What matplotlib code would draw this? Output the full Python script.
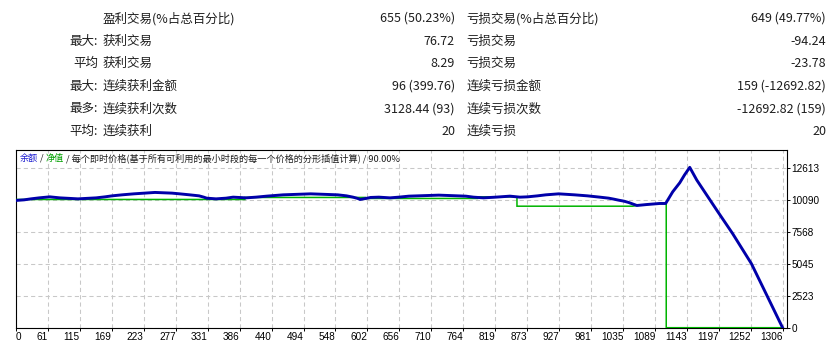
import matplotlib
matplotlib.use("Agg")
import matplotlib.pyplot as plt
import numpy as np

plt.rcParams['font.family'] = ['Noto Sans CJK SC', 'DejaVu Sans']

# ---------------- summary table ----------------
row_prefix = ["", "最大:", "平均", "最大:", "最多:", "平均:"]
win_labels = ["盈利交易(%占总百分比)", "获利交易", "获利交易", "连续获利金额", "连续获利次数", "连续获利"]
win_values = ["655 (50.23%)", "76.72", "8.29", "96 (399.76)", "3128.44 (93)", "20"]
loss_labels = ["亏损交易(%占总百分比)", "亏损交易", "亏损交易", "连续亏损金额", "连续亏损次数", "连续亏损"]
loss_values = ["649 (49.77%)", "-94.24", "-23.78", "159 (-12692.82)", "-12692.82 (159)", "20"]

# ---------------- chart data ----------------
balance_trade = [0, 14, 26, 40, 58, 75, 106, 137, 152, 164, 181, 201, 237, 266, 279, 296, 312, 320, 325,
                 341, 358, 370, 392, 409, 427, 455, 502, 548, 563, 574, 582, 586, 596, 604, 618, 637, 652,
                 669, 720, 766, 779, 796, 817, 841, 858, 871, 888, 902, 924, 951, 973, 994, 1009, 1018, 1026,
                 1035, 1043, 1057, 1075, 1096, 1106, 1118, 1130, 1138, 1147, 1159, 1195, 1220, 1252, 1277, 1305]
balance_value = [10072, 10119, 10199, 10278, 10358, 10278, 10199, 10278, 10358, 10437, 10517, 10596, 10707,
                 10652, 10596, 10517, 10437, 10334, 10254, 10199, 10254, 10334, 10278, 10334, 10413, 10517,
                 10596, 10517, 10437, 10334, 10231, 10151, 10231, 10310, 10334, 10278, 10334, 10413, 10493,
                 10413, 10334, 10278, 10334, 10413, 10334, 10358, 10437, 10517, 10596, 10517, 10437, 10334,
                 10254, 10175, 10095, 10016, 9913, 9674, 9754, 9833, 9833, 10755, 11471, 12083, 12693, 11685,
                 9165, 7448, 5064, 2679, 0]

equity_trade = [0, 390, 390, 595, 595, 786, 786, 853, 853, 1050, 1057, 1075, 1096, 1107, 1107, 1305]
equity_value = [10151, 10151, 10310, 10310, 10231, 10231, 10358, 10358, 9618, 9618, 9674, 9754, 9833, 9833, 0, 0]

x_tick_labels = ["0", "61", "115", "169", "223", "277", "331", "386", "440", "494", "548", "602", "656",
                 "710", "764", "819", "873", "927", "981", "1035", "1089", "1143", "1197", "1252", "1306"]
y_tick_values = [0, 2523, 5045, 7568, 10090, 12613]

title_parts = ["余额", " / ", "净值", " / 每个即时价格(基于所有可利用的最小时段的每一个价格的分形插值计算) / 90.00%"]

# ---------------- layout ----------------
W, H = 839, 348
fig = plt.figure(figsize=(W / 100, H / 100), dpi=100)
fig.patch.set_facecolor("white")

txt_color = "#1e1e1e"
tfs = 9
row_y0, row_dy = 18.5, 22.6

def fx(px):
    return px / W

def fy(py):
    return 1 - py / H

for i in range(len(win_labels)):
    yy = fy(row_y0 + i * row_dy)
    fig.text(fx(98), yy, row_prefix[i], ha="right", va="center", fontsize=tfs, color=txt_color)
    fig.text(fx(103), yy, win_labels[i], ha="left", va="center", fontsize=tfs, color=txt_color)
    fig.text(fx(455), yy, win_values[i], ha="right", va="center", fontsize=tfs, color=txt_color)
    fig.text(fx(466.5), yy, loss_labels[i], ha="left", va="center", fontsize=tfs, color=txt_color)
    fig.text(fx(826), yy, loss_values[i], ha="right", va="center", fontsize=tfs, color=txt_color)

# ---------------- chart ----------------
ax_l, ax_r, ax_t, ax_b = 15.7, 786.7, 149.7, 327.7
ax = fig.add_axes([ax_l / W, 1 - ax_b / H, (ax_r - ax_l) / W, (ax_b - ax_t) / H])

ax.plot(equity_trade, equity_value, color="#00b400", lw=1.1, zorder=3, solid_joinstyle="miter")
ax.plot(balance_trade, balance_value, color="#0000aa", lw=2.1, zorder=4)

ax.set_xlim(0, 1312)
ax.set_ylim(0, 14090)

xt = np.linspace(0, 1306, len(x_tick_labels))
ax.set_xticks(xt)
ax.set_xticklabels(x_tick_labels)
for i, lab in enumerate(ax.get_xticklabels()):
    lab.set_ha("left" if i == 0 else "right")

ax.yaxis.tick_right()
ax.set_yticks(y_tick_values)
ax.set_yticklabels([str(v) for v in y_tick_values])

tick_font = dict(family=["Liberation Sans", "DejaVu Sans"], size=7.2)
for lab in ax.get_xticklabels() + ax.get_yticklabels():
    lab.set_fontfamily(tick_font["family"])
    lab.set_fontsize(tick_font["size"])
    lab.set_color("#000000")

ax.tick_params(axis="x", length=2, width=0.7, pad=1.2, color="#000000")
ax.tick_params(axis="y", length=2, width=0.7, pad=1.5, color="#000000", right=True, left=False)

ax.grid(True, color="#c8c8c8", linestyle=(0, (4, 3)), linewidth=0.75)
ax.set_axisbelow(True)
for sp in ax.spines.values():
    sp.set_color("#000000")
    sp.set_linewidth(0.8)

# multi-coloured caption inside the chart
fig.canvas.draw()
renderer = fig.canvas.get_renderer()
cap_colors = ["#1a1ad0", txt_color, "#00a000", txt_color]
x_px = 20.0
for s, c in zip(title_parts, cap_colors):
    t = fig.text(x_px / W, fy(158), s, color=c, fontsize=6.6, ha="left", va="center")
    bb = t.get_window_extent(renderer)
    x_px = bb.x1

fig.savefig("out.png", dpi=100, facecolor="white")
